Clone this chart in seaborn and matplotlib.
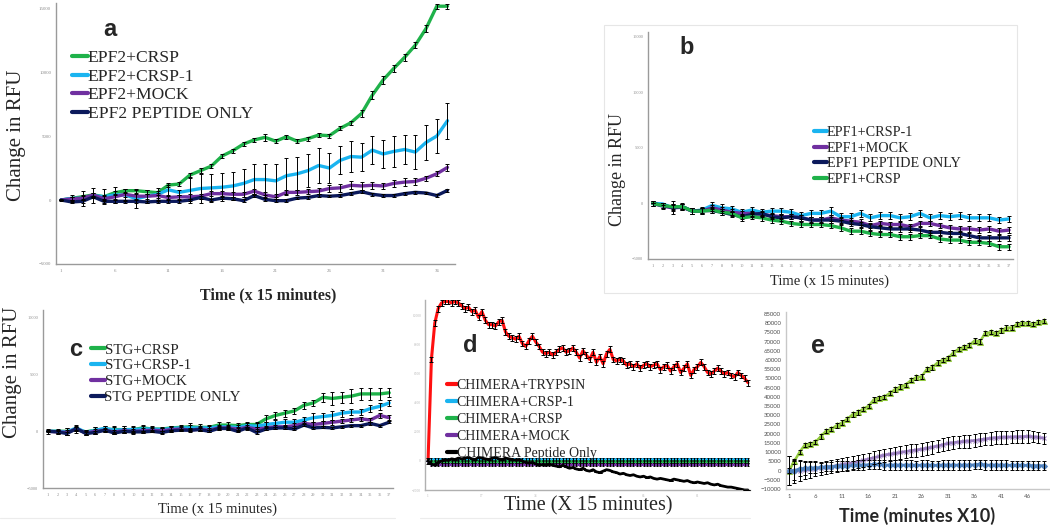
import matplotlib
matplotlib.use("Agg")
import matplotlib.pyplot as plt
from matplotlib.ticker import MultipleLocator, FixedLocator
from matplotlib.patches import Rectangle
import seaborn as sns

# ---------------- panel a : EPF2 ----------------
a_x = list(range(1, 38))
a_crsp = [0, 130, 260, 400, 260, 570, 730, 730, 650, 570,
          1170, 1250, 1950, 2300, 2650, 3440, 3850, 4380, 4700, 4900,
          4600, 4950, 4600, 4800, 5080, 5030, 5600, 6040, 6770, 8200,
          9380, 10290, 11150, 12100, 13400, 15150, 15150]
a_crsp_err = [0, 100, 150, 150, 150, 150, 150, 150, 150, 150,
              150, 150, 150, 200, 150, 150, 150, 150, 150, 250,
              150, 150, 150, 150, 150, 150, 150, 150, 300, 300,
              300, 250, 250, 250, 250, 200, 200]
a_crsp1 = [0, 130, 130, 350, 260, 400, 400, 100, 300, 450,
           800, 600, 750, 900, 950, 1000, 1100, 1300, 1600, 1600,
           1500, 1900, 2050, 2300, 2700, 2500, 3100, 3400, 3350, 3900,
           3600, 3800, 3950, 3750, 4500, 5000, 6200]
a_crsp1_err = [0, 300, 600, 600, 600, 600, 500, 700, 500, 500,
               400, 200, 1000, 1100, 1100, 1100, 1100, 1100, 1200, 1200,
               1300, 1400, 1300, 1300, 1400, 1200, 1100, 1200, 1100, 1100,
               1100, 1200, 1100, 1300, 1400, 1300, 1400]
a_mock = [0, 100, 150, 400, 100, 250, 450, 300, 300, 350,
          200, 250, 250, 300, 500, 500, 450, 450, 700, 400,
          250, 600, 600, 650, 700, 900, 950, 1150, 1100, 1150,
          1100, 1300, 1400, 1450, 1700, 2050, 2550]
a_mock_err = [0, 100, 150, 150, 200, 200, 200, 200, 200, 200,
              150, 150, 200, 200, 200, 200, 200, 200, 200, 200,
              200, 200, 200, 200, 250, 300, 300, 300, 300, 250,
              250, 300, 300, 300, 200, 200, 300]
a_pep = [0, -150, -100, 250, -100, -100, -100, -100, -150, -100,
         -100, -100, 0, 200, 0, 150, 100, -50, 350, 50,
         -50, -50, 150, 200, 350, 300, 350, 500, 650, 450,
         350, 350, 500, 600, 550, 350, 750]
a_pep_err = 100

# ---------------- panel b : EPF1 ----------------
b_x = list(range(1, 38))
b_crsp1 = [0, -50, -400, -300, -700, -600, -180, -400, -500, -800,
           -600, -800, -700, -700, -800, -1100, -900, -900, -700, -1200,
           -1200, -900, -1300, -1100, -1100, -1300, -1200, -900, -1300, -1100,
           -1200, -1100, -1300, -1300, -1300, -1500, -1400]
b_crsp1_err = [0, 100, 600, 300, 300, 300, 300, 300, 300, 300,
               300, 300, 300, 300, 300, 300, 300, 300, 350, 300,
               300, 300, 300, 300, 300, 300, 300, 300, 300, 300,
               300, 300, 300, 300, 300, 300, 300]
b_mock = [0, -250, -400, -350, -700, -700, -400, -600, -800, -900,
          -900, -1000, -1100, -1200, -1200, -1300, -1500, -1500, -1300, -1500,
          -1600, -1700, -2000, -1800, -1900, -1900, -2100, -1800, -1800, -2000,
          -2200, -2300, -2300, -2400, -2300, -2500, -2400]
b_pep = [0, -200, -350, -300, -700, -650, -650, -800, -1000, -1200,
         -1000, -900, -1200, -1300, -1200, -1300, -1500, -1500, -1500, -1600,
         -1800, -1900, -2100, -2200, -2300, -2300, -2300, -2400, -2600, -2600,
         -2700, -2700, -2900, -3100, -3100, -3100, -3100]
b_crsp = [0, -200, -300, -300, -700, -700, -600, -800, -900, -1300,
          -1200, -1300, -1500, -1600, -1800, -1900, -1900, -1900, -2000, -2200,
          -2500, -2500, -2700, -2800, -2800, -3000, -3000, -2900, -2900, -3200,
          -3300, -3300, -3500, -3500, -3600, -3900, -3900]
b_other_err = 250

# ---------------- panel c : STG ----------------
c_x = list(range(1, 38))
c_crsp = [0, 0, 0, 150, -50, 100, 200, 150, 150, 150,
          300, 200, 200, 300, 350, 400, 350, 350, 550, 550,
          500, 600, 600, 1100, 1400, 1600, 1800, 2300, 2500, 3000,
          2900, 3000, 3100, 3300, 3300, 3300, 3400]
c_crsp_err = [0, 200, 300, 300, 200, 300, 300, 300, 300, 300,
              300, 300, 200, 200, 250, 300, 300, 250, 250, 250,
              250, 250, 250, 300, 300, 300, 300, 300, 300, 400,
              600, 500, 600, 500, 500, 500, 400]
c_crsp1 = [0, 0, -50, 300, -100, 100, 250, 100, 150, 150,
           200, 200, 150, 250, 300, 300, 300, 300, 400, 400,
           350, 500, 450, 600, 700, 800, 800, 1000, 1200, 1300,
           1400, 1600, 1700, 1700, 2000, 2200, 2500]
c_crsp1_err = [0, 150, 300, 250, 200, 250, 250, 300, 300, 250,
               250, 200, 150, 200, 200, 250, 200, 200, 200, 200,
               200, 250, 250, 200, 300, 300, 300, 300, 400, 350,
               400, 300, 300, 300, 300, 300, 300]
c_mock = [0, -50, -100, 200, -150, 0, 100, -50, 50, 0,
          50, 100, 50, 150, 200, 100, 200, 100, 300, 300,
          200, 350, 200, 300, 400, 400, 500, 700, 600, 700,
          800, 900, 1000, 1100, 1000, 1400, 1200]
c_mock_err = 200
c_pep = [0, -50, -200, 250, -200, -100, 100, -150, 0, -50,
         -50, 0, -100, 50, 100, 100, 150, 0, 250, 250,
         0, 300, -100, 200, 300, 300, 200, 550, 300, 350,
         300, 400, 500, 500, 700, 500, 800]
c_pep_err = 100

# ---------------- panel d : CHIMERA ----------------
d_x = list(range(1, 97))
d_trypsin = [0, 7000, 9500, 10500, 10900, 11000, 11000, 10900, 11000, 10900,
             10700, 10500, 10600, 10300, 10400, 9900, 10300, 9700, 9400, 9400,
             9300, 9600, 9700, 8900, 8600, 8500, 8400, 8600, 8100, 7900,
             8300, 8600, 8200, 7900, 7500, 7400, 7500, 7300, 7500, 7700,
             7800, 7500, 7600, 7800, 7500, 7100, 7600, 7300, 7000, 7500,
             6800, 7200, 6700, 7400, 7700, 7000, 6900, 7000, 6900, 6600,
             6700, 6500, 6700, 6400, 6600, 6700, 6500, 6600, 6700, 6300,
             6500, 6600, 6200, 6500, 6700, 6100, 6400, 6700, 5900, 6300,
             6500, 6800, 6500, 6100, 6000, 6200, 6400, 6200, 6000, 6100,
             5900, 5800, 6100, 5900, 5700, 5400]
d_pep = [0, -200, -300, -100, 0, 100, 50, 150, 100, 200,
         150, 200, 250, 150, 100, 250, 200, 150, 100, 200,
         250, 150, 100, 200, 150, 100, 50, 100, 0, -100,
         -150, -100, -200, -300, -250, -300, -200, -300, -350, -400,
         -300, -400, -500, -450, -550, -600, -500, -650, -700, -600,
         -750, -800, -700, -600, -650, -750, -800, -900, -850, -950,
         -1000, -950, -1050, -1100, -1050, -1150, -1100, -1200, -1250, -1200,
         -1250, -1300, -1350, -1250, -1300, -1350, -1400, -1350, -1450, -1500,
         -1450, -1500, -1550, -1500, -1600, -1650, -1600, -1700, -1750, -1800,
         -1800, -1850, -1900, -1950, -2000, -2000]
d_crsp1 = [0] + [100] * 95
d_crsp = [0] + [-50] * 95
d_mock = [0] + [-250] * 95
d_red_err = 200
d_flat_err = 110

# ---------------- panel e ----------------
e_x = list(range(1, 50))
e_green = [0, 5000, 10000, 14000, 14500, 15500, 18500, 21500, 22500, 24500,
           26000, 28000, 30500, 31500, 33500, 35000, 38500, 39500, 40000, 42000,
           44000, 45500, 46500, 49000, 50500, 51000, 55000, 56000, 58500, 60000,
           61000, 64000, 66000, 67000, 68000, 70500, 70000, 74500, 75000, 74500,
           76000, 77500, 77500, 79500, 80000, 80000, 79500, 80500, 81000]
e_green_err = 1200
e_purple = [0, -500, 0, 300, 600, 1000, 1300, 1700, 2100, 2700,
            3300, 3700, 4200, 4800, 5500, 6200, 7000, 7700, 8400, 8900,
            9300, 9800, 10300, 10800, 11100, 11600, 12100, 12700, 13300, 14000,
            14800, 15100, 15500, 15800, 16000, 16300, 16700, 17100, 17500, 17800,
            18000, 18100, 18200, 18300, 18400, 18500, 18300, 18000, 17600]
e_purple_err = [8000, 6500, 5500, 5000, 4500, 4000, 3500, 3500, 3500, 3500,
                3500, 3500, 3500, 3500, 3500, 3500, 3500, 3500, 3500, 3500,
                3500, 3500, 3500, 3500, 3500, 3500, 3500, 3500, 3500, 3500,
                3500, 3500, 3500, 3500, 3500, 3500, 3500, 3500, 3500, 3500,
                3500, 3500, 3500, 3500, 3500, 3500, 3000, 3000, 3000]
e_blue = [0, 0, 1000, 1200, 1500, 1500, 1700, 2000, 2200, 2500,
          2500, 2500, 2800, 3000, 3000, 3200, 3500, 3300, 3000, 3000,
          3000, 3000, 3000, 3000, 2800, 3000, 3000, 2800, 2800, 3000,
          3000, 3000, 3000, 3000, 3000, 3200, 3500, 3000, 3000, 3000,
          3000, 3000, 2800, 2800, 2800, 2800, 2700, 2700, 2700]
e_blue_err = [8000, 5000, 4000, 3500, 3000, 3000, 2500, 2500, 2500, 2500,
              2500, 2500, 2500, 2500, 2500, 2500, 2500, 2500, 2500, 2500,
              2500, 2500, 2500, 2500, 2500, 2500, 2500, 2500, 2500, 2500,
              2500, 2500, 2500, 2500, 2500, 2500, 2500, 2500, 2500, 2500,
              2500, 2500, 2500, 2500, 2500, 2500, 2500, 2500, 2500]

GREEN = "#1fb24a"
SKY = "#1ab4f0"
PURPLE = "#7030a0"
NAVY = "#0c1a5c"
RED = "#ff1010"
E_GREEN = "#92c83e"
E_PURPLE = "#9b7fc0"
E_BLUE = "#4f81bd"

W, H = 1050, 526
SERIF = "Liberation Serif"

sns.set_style("white")
plt.rcParams["font.family"] = [SERIF, "DejaVu Sans"]

fig = plt.figure(figsize=(W / 100, H / 100), dpi=100)


def px_axes(x0, y0, x1, y1):
    return fig.add_axes([x0 / W, 1 - y1 / H, (x1 - x0) / W, (y1 - y0) / H])


def series(ax, x, y, err, color, label, lw=2.4, marker=None, ms=0, cap=1.4):
    sns.lineplot(x=x, y=y, ax=ax, color=color, lw=lw, label=label,
                 marker=marker, markersize=ms, markeredgecolor=color, zorder=2)
    ax.errorbar(x, y, yerr=err, fmt="none", ecolor="black", elinewidth=0.7,
                capsize=cap, capthick=0.7, zorder=3)


def style(ax, color="#9a9a9a", labelsize=3.5, labelcolor="#8c8c8c", pad=1.5):
    sns.despine(ax=ax)
    for s in ["left", "bottom"]:
        ax.spines[s].set_color(color)
        ax.spines[s].set_linewidth(1.0)
    ax.tick_params(which="both", labelsize=labelsize, labelcolor=labelcolor,
                   color=color, length=2, width=0.6, pad=pad)
    ax.set_facecolor("none")
    ax.set_xlabel("")
    ax.set_ylabel("")


def legend(ax, x, y, size, spacing, hl=0.9, family=SERIF):
    leg = ax.legend(loc="upper left", bbox_to_anchor=(x / W, 1 - y / H),
                    bbox_transform=fig.transFigure, frameon=False,
                    prop={"family": family, "size": size}, handlelength=hl,
                    handletextpad=0.0, labelspacing=spacing, borderpad=0,
                    borderaxespad=0)
    for line in leg.get_lines():
        line.set_linewidth(3)


def text(x, y, s, **kw):
    fig.text(x / W, 1 - y / H, s, ha="center", va="center", **kw)


# panel b frame
fig.patches.append(Rectangle((604 / W, 1 - 293 / H), 413 / W, 268 / H,
                             transform=fig.transFigure, fill=False,
                             edgecolor="#e6e6e6", lw=0.8))

# ---- a ----
ax = px_axes(56, 3, 455, 264)
series(ax, a_x, a_crsp, a_crsp_err, GREEN, "EPF2+CRSP")
series(ax, a_x, a_crsp1, a_crsp1_err, SKY, "EPF2+CRSP-1")
series(ax, a_x, a_mock, a_mock_err, PURPLE, "EPF2+MOCK")
series(ax, a_x, a_pep, a_pep_err, NAVY, "EPF2 PEPTIDE ONLY")
ax.set_xlim(0.53, 37.7)
ax.set_ylim(-5000, 15400)
ax.yaxis.set_major_locator(FixedLocator([-5000, 0, 5000, 10000, 15000]))
ax.xaxis.set_major_locator(FixedLocator([1, 6, 11, 16, 21, 26, 31, 36]))
ax.xaxis.set_minor_locator(MultipleLocator(1))
style(ax)
legend(ax, 72, 50, 12.6, 0.13)
text(17, 135, "Change in RFU", rotation=90, fontsize=15)
text(268, 295, "Time (x 15 minutes)", fontsize=11.5, fontweight="bold")
text(110, 30, "a", fontsize=17, fontweight="bold", family="Liberation Sans")

# ---- b ----
ax = px_axes(648, 32, 1013, 259)
series(ax, b_x, b_crsp1, b_crsp1_err, SKY, "EPF1+CRSP-1")
series(ax, b_x, b_mock, b_other_err, PURPLE, "EPF1+MOCK")
series(ax, b_x, b_pep, b_other_err, NAVY, "EPF1 PEPTIDE ONLY")
series(ax, b_x, b_crsp, b_other_err, GREEN, "EPF1+CRSP")
ax.set_xlim(0.52, 37.4)
ax.set_ylim(-5000, 15400)
ax.yaxis.set_major_locator(FixedLocator([-5000, 0, 5000, 10000, 15000]))
ax.xaxis.set_major_locator(MultipleLocator(1))
style(ax, labelsize=3.2)
legend(ax, 814, 126, 10.2, 0.18)
text(618, 170, "Change in RFU", rotation=90, fontsize=13)
text(830, 281, "Time (x 15 minutes)", fontsize=10.5)
text(687, 48, "b", fontsize=17, fontweight="bold", family="Liberation Sans")

# ---- c ----
ax = px_axes(43, 310, 393, 488)
series(ax, c_x, c_crsp, c_crsp_err, GREEN, "STG+CRSP")
series(ax, c_x, c_crsp1, c_crsp1_err, SKY, "STG+CRSP-1")
series(ax, c_x, c_mock, c_mock_err, PURPLE, "STG+MOCK")
series(ax, c_x, c_pep, c_pep_err, NAVY, "STG PEPTIDE ONLY")
ax.set_xlim(0.47, 37.4)
ax.set_ylim(-5000, 10700)
ax.yaxis.set_major_locator(FixedLocator([-5000, 0, 5000, 10000]))
ax.xaxis.set_major_locator(MultipleLocator(1))
style(ax, labelsize=3.2)
legend(ax, 91, 343, 10.8, 0.15)
text(13, 372, "Change in RFU", rotation=90, fontsize=15)
text(217, 509, "Time (x 15 minutes)", fontsize=10.5)
text(76, 350, "c", fontsize=17, fontweight="bold", family="Liberation Sans")
fig.add_artist(plt.Line2D([0, 395 / W], [1 - 518 / H] * 2, color="#ececec", lw=0.8))

# ---- d ----
ax = px_axes(425, 300, 750, 490)
series(ax, d_x, d_trypsin, d_red_err, RED, "CHIMERA+TRYPSIN", lw=2.2)
series(ax, d_x, d_crsp1, d_flat_err, SKY, "CHIMERA+CRSP-1", lw=2.2, cap=1.0)
series(ax, d_x, d_crsp, d_flat_err, GREEN, "CHIMERA+CRSP", lw=2.2, cap=1.0)
series(ax, d_x, d_mock, d_flat_err, PURPLE, "CHIMERA+MOCK", lw=2.2, cap=1.0)
series(ax, d_x, d_pep, 0, "black", "CHIMERA Peptide Only", lw=2.0)
ax.set_xlim(0.1, 96.6)
ax.set_ylim(-2000, 11100)
ax.yaxis.set_major_locator(FixedLocator([-2000, 0, 2000, 4000, 6000, 8000, 10000]))
ax.xaxis.set_major_locator(FixedLocator([1, 17, 33, 49, 65, 81]))
style(ax, color="#b0b0b0", labelsize=2.5, labelcolor="#b8b8b8", pad=0.8)
legend(ax, 447, 379, 10, 0.28, hl=0.7)
text(588, 506, "Time (X 15 minutes)", fontsize=14.5)
text(470, 345, "d", fontsize=17, fontweight="bold", family="Liberation Sans")
fig.add_artist(plt.Line2D([420 / W, 750 / W], [1 - 518 / H] * 2, color="#ececec", lw=0.8))

# ---- e ----
ax = px_axes(786, 312, 1050, 489)
series(ax, e_x, e_green, e_green_err, E_GREEN, "green", lw=1.8, marker="^", ms=4.5)
series(ax, e_x, e_purple, e_purple_err, E_PURPLE, "purple", lw=2.0, marker="x", ms=3.5)
series(ax, e_x, e_blue, e_blue_err, E_BLUE, "blue", lw=1.8, marker="D", ms=3)
ax.get_legend().remove()
ax.set_xlim(0.44, 50.2)
ax.set_ylim(-10000, 86000)
ax.yaxis.set_major_locator(MultipleLocator(5000))
ax.xaxis.set_major_locator(FixedLocator([1, 6, 11, 16, 21, 26, 31, 36, 41, 46]))
ax.xaxis.set_minor_locator(MultipleLocator(1))
style(ax, color="#c8c8c8", labelsize=4.3, labelcolor="#505050")
for lab in ax.get_xticklabels() + ax.get_yticklabels():
    lab.set_family("Lato")
text(917, 516, "Time (minutes X10)", fontsize=13, fontweight="bold", family="Lato")
text(818, 346, "e", fontsize=18, fontweight="bold", family="Liberation Sans")

fig.savefig("out.png", dpi=100, facecolor="white")
